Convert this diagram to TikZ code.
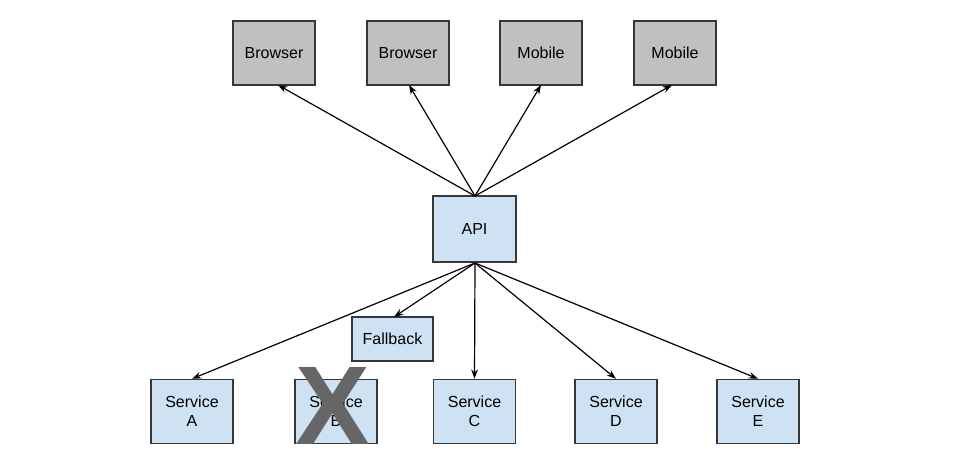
\documentclass[tikz,border=0pt]{standalone}
\usepackage{fontspec}
\setmainfont{Liberation Sans}
\usetikzlibrary{arrows.meta}
\definecolor{boxgray}{RGB}{192,192,192}
\definecolor{boxblue}{RGB}{207,226,243}
\definecolor{edgegray}{RGB}{55,55,55}
\definecolor{xgray}{RGB}{102,102,102}
\begin{document}
\begin{tikzpicture}[x=0.75pt,y=-0.75pt,
  box/.style={draw=edgegray,line width=1.1pt,minimum width=82*0.75pt,minimum height=64*0.75pt,inner sep=0pt,align=center,font=\fontsize{12}{14.5}\selectfont},
  client/.style={box,fill=boxgray},
  svc/.style={box,fill=boxblue},
  conn/.style={-{Stealth[length=7pt,width=5pt]},line width=0.9pt,black}]
\useasboundingbox (0,0) rectangle (974,458);
\fill[white] (0,0) rectangle (974,458);
\node[client] (b1) at (274,53) {Browser};
\node[client] (b2) at (408,53) {Browser};
\node[client] (m1) at (541,53) {Mobile};
\node[client] (m2) at (675,53) {Mobile};
\node[svc,minimum width=83*0.75pt,minimum height=66*0.75pt] (api) at (474.5,229) {API};
\node[svc,minimum width=81*0.75pt,minimum height=44*0.75pt] (fb) at (392.5,339) {Fallback};
\node[svc] (sa) at (192,411.5) {Service\\A};
\node[svc] (sb) at (336,411.5) {Service\\B};
\node[svc] (sc) at (474.5,411.5) {Service\\C};
\node[svc] (sd) at (616,411.5) {Service\\D};
\node[svc] (se) at (758,411.5) {Service\\E};
\node[text=xgray,font=\fontsize{84}{84}\selectfont\bfseries,inner sep=0pt] (x) at (333,406) {X};
\coordinate (at) at (475,196);
\coordinate (ab) at (475,263);
\coordinate (t1) at (278,85);
\coordinate (t2) at (409,85);
\coordinate (t3) at (541,85);
\coordinate (t4) at (672,85);
\draw[conn] (at) -- (t1);
\draw[conn] (at) -- (t2);
\draw[conn] (at) -- (t3);
\draw[conn] (at) -- (t4);
\draw[conn] (ab) -- (sa.north);
\draw[conn] (ab) -- (394,317);
\draw[conn] (ab) -- (sc.north);
\draw[conn] (ab) -- (sd.north);
\draw[conn] (ab) -- (se.north);
\end{tikzpicture}
\end{document}
